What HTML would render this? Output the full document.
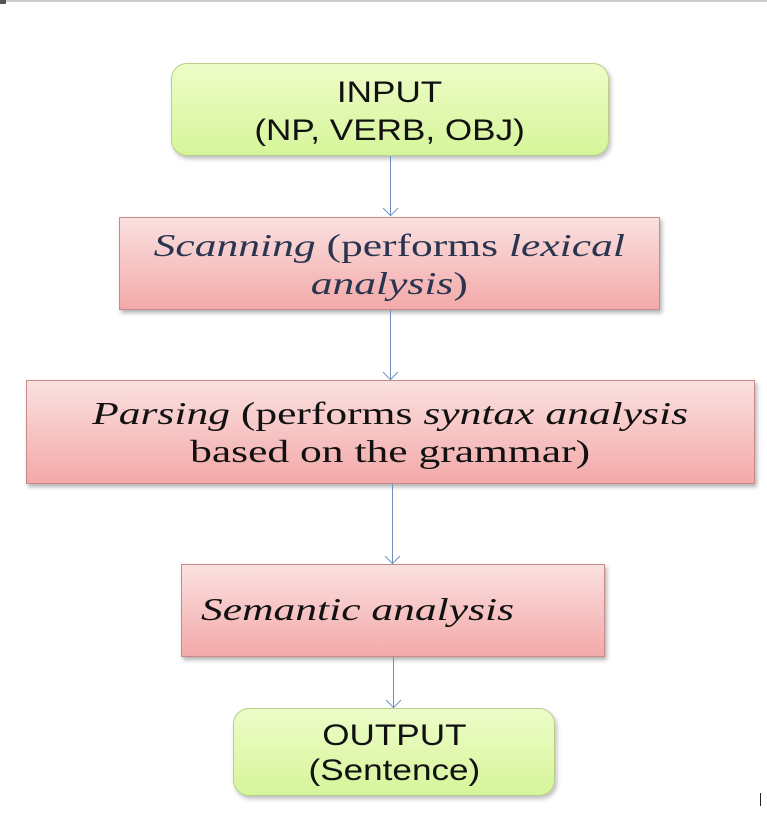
<!DOCTYPE html>
<html><head><style>
body{margin:0;width:767px;height:823px;background:#fff;position:relative;overflow:hidden;font-family:"Liberation Sans",sans-serif}
.b{position:absolute;box-sizing:border-box;text-align:center;display:flex;flex-direction:column;justify-content:center;align-items:center}
.g{background:linear-gradient(#eefcc8,#d6f59a);border:1.5px solid #b7cf8a;border-radius:16px;box-shadow:2px 3px 4px rgba(0,0,0,.25);font-size:30px;line-height:38px;color:#111}
.g div{transform:scaleX(1.17);padding-top:5px}
.r{background:linear-gradient(#fbe0e0,#f3a9a9);border:1px solid #c98a8a;box-shadow:2px 3px 4px rgba(0,0,0,.3);font-family:"Liberation Serif",serif;font-size:32px;line-height:38px;color:#111}
.r div{transform:scaleX(1.36);white-space:nowrap}
.a{position:absolute;width:1px;background:#6d8fc0}
.h{position:absolute;width:10px;height:10px;border-right:1px solid #6d8fc0;border-bottom:1px solid #6d8fc0;transform:rotate(45deg)}
</style></head><body>
<div style="position:absolute;left:0;top:0;width:767px;height:2px;background:#ccc"></div>
<div style="position:absolute;left:0;top:0;width:6px;height:4px;background:#555"></div>
<div style="position:absolute;left:760px;top:793px;width:1px;height:13px;background:#222"></div>

<div class="b g" style="left:171px;top:63px;width:438px;height:93px"><div>INPUT<br>(NP, VERB, OBJ)</div></div>
<div class="a" style="left:390px;top:156px;height:60px"></div><div class="h" style="left:385px;top:203px"></div>

<div class="b r" style="left:119px;top:217px;width:541px;height:93px;color:#2a3550"><div><i>Scanning</i> (performs <i>lexical</i><br><i>analysis</i>)</div></div>
<div class="a" style="left:390px;top:310px;height:70px"></div><div class="h" style="left:385px;top:367px"></div>

<div class="b r" style="left:26px;top:380px;width:729px;height:104px"><div><i>Parsing</i> (performs <i>syntax analysis</i><br>based on the grammar)</div></div>
<div class="a" style="left:392px;top:484px;height:80px"></div><div class="h" style="left:387px;top:551px"></div>

<div class="b r" style="left:181px;top:564px;width:424px;height:93px;align-items:flex-start;padding-left:19px"><div style="transform-origin:left center;padding-bottom:4px"><i>Semantic analysis</i></div></div>
<div class="a" style="left:393px;top:657px;height:51px"></div><div class="h" style="left:388px;top:695px"></div>

<div class="b g" style="left:233px;top:708px;width:322px;height:88px;line-height:35px"><div style="padding-top:2px">OUTPUT<br>(Sentence)</div></div>
</body></html>
